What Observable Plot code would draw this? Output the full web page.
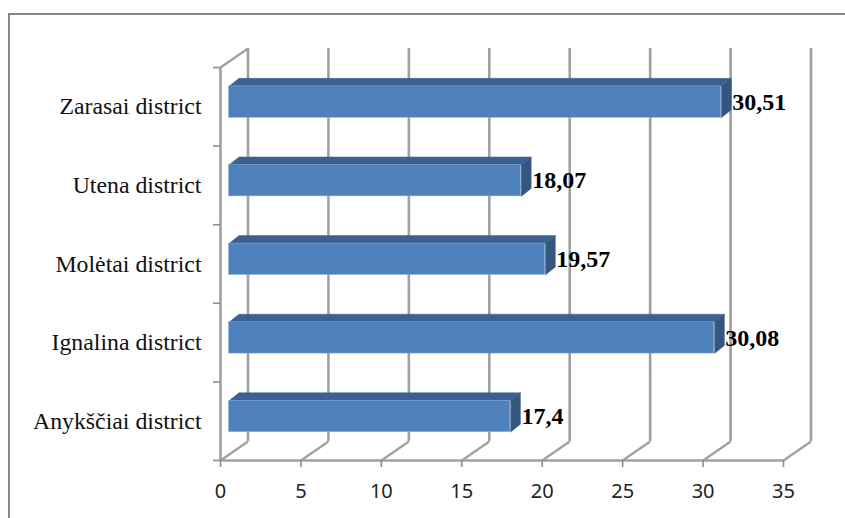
<!DOCTYPE html>
<html><head><meta charset="utf-8">
<script src="https://cdn.jsdelivr.net/npm/d3@7"></script>
<script src="https://cdn.jsdelivr.net/npm/@observablehq/plot@0.6"></script>
<style>
html,body{margin:0;padding:0;background:#fff;overflow:hidden}
#frame{position:absolute;left:8px;top:13px;width:840px;height:520px;border:2.5px solid #868686;box-sizing:border-box}
#chart{position:absolute;left:0;top:0}
svg{display:block;background:transparent}
</style></head><body>
<div id="frame"></div><div id="chart"></div>
<script>
const categories = ["Anykščiai district","Ignalina district","Molėtai district","Utena district","Zarasai district"];
const values = [17.4,30.08,19.57,18.07,30.51];
const labels = ["17,4","30,08","19,57","18,07","30,51"];
const xTicks = [0,5,10,15,20,25,30,35];

const W=845,H=518,x0=220,x1=783,yb=460,yt=67;
const ux=(x1-x0)/35, uy=(yb-yt)/5;
// 3D projection offsets in data units
const wallX=27.5/ux, wallY=19/uy;
const startX=8.5/ux, endX=10/ux, deepX=10/ux, deepY=8/uy, lo=0.36, hi=0.76;
const rows=categories.map((c,i)=>({c,i,v:values[i],l:labels[i]}));
const poly=(rows,f)=>rows.flatMap(r=>f(r).map(([x,y])=>({x,y,k:r.c})));
const grid="#a0a0a0";
const plot=Plot.plot({
  width:W,height:H,marginLeft:x0,marginRight:W-x1,marginTop:yt,marginBottom:H-yb,
  x:{domain:[0,35],range:[x0,x1]},
  y:{domain:[0,5],range:[yb,yt]},
  style:{background:"transparent",overflow:"visible"},
  marks:[
    // back wall grid
    Plot.ruleX(xTicks,{x:d=>d+wallX,y1:wallY,y2:5+wallY,stroke:grid,strokeWidth:2.6}),
    Plot.link(xTicks,{x1:d=>d,y1:0,x2:d=>d+wallX,y2:wallY,stroke:grid,strokeWidth:2.2}),
    Plot.link([0],{x1:0,y1:5,x2:wallX,y2:5+wallY,stroke:grid,strokeWidth:2.2}),
    // front axes
    Plot.ruleX([0],{y1:0,y2:5,stroke:grid,strokeWidth:2.6}),
    Plot.ruleY([0],{x1:0,x2:35,stroke:grid,strokeWidth:2.6}),
    Plot.axisX({ticks:xTicks,tickSize:7,strokeWidth:1.6,stroke:"#8c8c8c",fontSize:0,label:null,tickFormat:()=>""}),
    Plot.axisY({ticks:[0,1,2,3,4,5],tickSize:7,strokeWidth:1.6,stroke:"#8c8c8c",tickFormat:()=>"",label:null}),
    Plot.text(xTicks,{x:d=>d,y:0,dy:31,text:d=>String(d),fontFamily:"Noto Sans",fontSize:20,fill:"#222"}),
    Plot.text(rows,{x:0,y:r=>r.i+0.5,dx:-19,text:"c",textAnchor:"end",fontFamily:"Liberation Serif",fontSize:23.8,fill:"#111"}),
    // bars: top, side, face
    Plot.line(poly(rows,r=>[[startX,r.i+hi],[startX+deepX,r.i+hi+deepY],[r.v+endX+deepX,r.i+hi+deepY],[r.v+endX,r.i+hi]]),{x:"x",y:"y",z:"k",fill:"#3c6190",stroke:"#3c6190",strokeWidth:.5}),
    Plot.line(poly(rows,r=>[[r.v+endX,r.i+hi],[r.v+endX+deepX,r.i+hi+deepY],[r.v+endX+deepX,r.i+lo+deepY],[r.v+endX,r.i+lo]]),{x:"x",y:"y",z:"k",fill:"#34567f",stroke:"#34567f",strokeWidth:.5}),
    Plot.rect(rows,{x1:startX,x2:r=>r.v+endX,y1:r=>r.i+lo,y2:r=>r.i+hi,fill:"#4f81bd",stroke:"#8fb0d8",strokeWidth:.5}),
    Plot.text(rows,{x:r=>r.v+endX+deepX,y:r=>r.i+0.56,dx:1,text:"l",textAnchor:"start",fontFamily:"Liberation Serif",fontWeight:"bold",fontSize:24,fill:"#000"})
  ]
});
document.getElementById("chart").append(plot);
</script></body></html>
